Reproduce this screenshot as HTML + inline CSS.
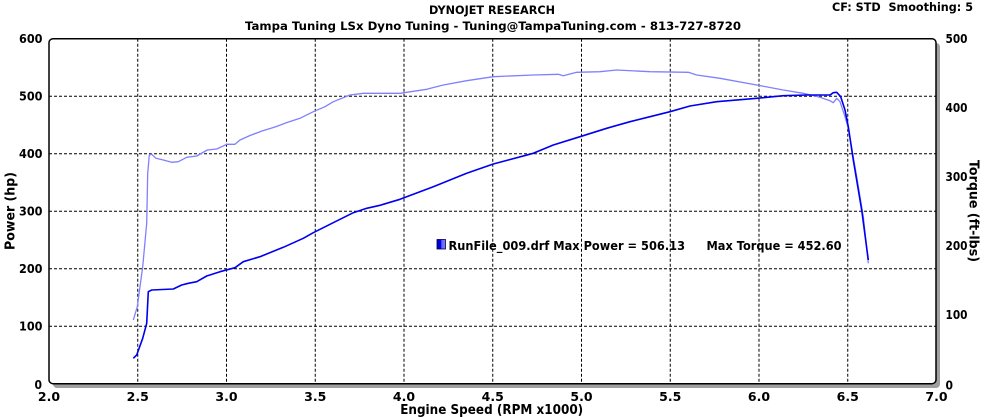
<!DOCTYPE html>
<html>
<head>
<meta charset="utf-8">
<style>
html,body{margin:0;padding:0;background:#fff;}
svg{display:block;}
text{font-family:"DejaVu Sans","Liberation Sans",sans-serif;font-weight:bold;fill:#000;}
</style>
</head>
<body>
<svg width="984" height="417" viewBox="0 0 984 417" xmlns="http://www.w3.org/2000/svg">
  <!-- Titles -->
  <text x="492" y="14" font-size="11.5" text-anchor="middle" textLength="126" lengthAdjust="spacingAndGlyphs">DYNOJET RESEARCH</text>
  <text x="493" y="30" font-size="11.5" text-anchor="middle" textLength="496" lengthAdjust="spacingAndGlyphs">Tampa Tuning LSx Dyno Tuning - Tuning@TampaTuning.com - 813-727-8720</text>
  <text x="832" y="11" font-size="11.5" textLength="141" lengthAdjust="spacingAndGlyphs">CF: STD&#160;&#160;Smoothing: 5</text>

  <!-- shadow -->
  <rect x="53" y="43" width="887" height="345" rx="4" fill="#a0a0a0"/>
  <!-- plot -->
  <rect x="49" y="38.7" width="887" height="345" rx="4" fill="#fff"/>

  <!-- grid -->
  <g stroke="#000" stroke-width="1" stroke-dasharray="3,2" fill="none">
    <line x1="49" y1="96.2" x2="936" y2="96.2"/>
    <line x1="49" y1="153.7" x2="936" y2="153.7"/>
    <line x1="49" y1="211.2" x2="936" y2="211.2"/>
    <line x1="49" y1="268.7" x2="936" y2="268.7"/>
    <line x1="49" y1="326.2" x2="936" y2="326.2"/>
    <line x1="137.75" y1="38.7" x2="137.75" y2="383.7"/>
    <line x1="226.5" y1="38.7" x2="226.5" y2="383.7"/>
    <line x1="315.25" y1="38.7" x2="315.25" y2="383.7"/>
    <line x1="404" y1="38.7" x2="404" y2="383.7"/>
    <line x1="492.75" y1="38.7" x2="492.75" y2="383.7"/>
    <line x1="581.5" y1="38.7" x2="581.5" y2="383.7"/>
    <line x1="670.25" y1="38.7" x2="670.25" y2="383.7"/>
    <line x1="759" y1="38.7" x2="759" y2="383.7"/>
    <line x1="847.75" y1="38.7" x2="847.75" y2="383.7"/>
  </g>

  <!-- frame -->
  <rect x="49" y="38.7" width="887" height="345" rx="4" fill="none" stroke="#000" stroke-width="1.5"/>

  <!-- ticks -->
  <g id="ticks" stroke="#000" stroke-width="1.2"></g>

  <!-- torque (light) -->
  <polyline fill="none" stroke="#8080ff" stroke-width="1.3" stroke-linejoin="round" points="133.3,320 137.3,306.7 142.7,266.7 146.7,223.3 147.7,173.3 149.3,155 151.7,154.3 156,158.3 163.3,160 171.7,162.3 178.3,161.7 186.7,157.3 196.7,156 207.3,150 216.7,149 226.7,144.3 235,144.3 240,140 250,135.5 262,131 275,127 287,122.5 300,118.3 313.3,111.7 325,106.7 333.3,101.7 350,95 363.3,93.3 400,93.3 426.7,89.3 443.3,85 466.7,80.7 493.3,76.7 533.3,75 558.3,74.3 563.3,75.7 576.7,72.3 600,71.7 616.7,70 650,71.7 688.3,72.3 696.7,75 720,78.3 756.7,85 783.3,90 803.3,93.3 820,97.3 830,100.7 833.3,102.7 836.7,98.3 840,101.7 845,116.7 848.3,128.3 856.7,176.7 863.3,216.7 868.3,263.3"/>

  <!-- power (dark) -->
  <polyline fill="none" stroke="#0000f0" stroke-width="1.6" stroke-linejoin="round" points="133.3,358.3 136.7,355 142.7,338.3 146.7,323.3 148.3,291.7 151.7,290 173.3,289 181.7,285 188.3,283.3 196.7,281.7 206.7,276 220,271.7 235,267.7 243.3,261.7 260,256.7 283.3,247.3 303.3,238.3 313.3,232.7 330,224.3 353.3,212.7 366.7,208.3 380,205.3 400,199.3 433.3,186.7 466.7,173.3 493.3,164 533.3,153.3 553.3,145 580,136.7 606.7,128.3 630,121.7 650,116.7 670,111.7 690,106 716.7,101.7 756.7,98.3 783.3,95.7 806.7,95 830,95 833.3,92.7 836.7,92.3 840.7,96.7 845,110 848.3,126.7 853.3,160 861.7,210 868.3,260"/>

  <!-- legend -->
  <defs>
    <linearGradient id="lg" x1="0" x2="1" y1="0" y2="0">
      <stop offset="0" stop-color="#0000e0"/>
      <stop offset="0.45" stop-color="#0000e0"/>
      <stop offset="0.55" stop-color="#6060ff"/>
      <stop offset="1" stop-color="#8080ff"/>
    </linearGradient>
  </defs>
  <rect x="437" y="239.5" width="8.5" height="9.5" fill="url(#lg)" stroke="#000040" stroke-width="0.8"/>
  <text x="448.5" y="250" font-size="12.5" textLength="236.5" lengthAdjust="spacingAndGlyphs">RunFile_009.drf Max Power = 506.13</text>
  <text x="706.5" y="250" font-size="12.5" textLength="135" lengthAdjust="spacingAndGlyphs">Max Torque = 452.60</text>

  <!-- left axis labels -->
  <g font-size="12.5" text-anchor="end">
    <text x="42.5" y="43.2" textLength="23.5" lengthAdjust="spacingAndGlyphs">600</text>
    <text x="42.5" y="100.7" textLength="23.5" lengthAdjust="spacingAndGlyphs">500</text>
    <text x="42.5" y="158.2" textLength="23.5" lengthAdjust="spacingAndGlyphs">400</text>
    <text x="42.5" y="215.7" textLength="23.5" lengthAdjust="spacingAndGlyphs">300</text>
    <text x="42.5" y="273.2" textLength="23.5" lengthAdjust="spacingAndGlyphs">200</text>
    <text x="42.5" y="330.7" textLength="23.5" lengthAdjust="spacingAndGlyphs">100</text>
    <text x="42" y="389" textLength="7.5" lengthAdjust="spacingAndGlyphs">0</text>
  </g>
  <!-- right axis labels -->
  <g font-size="12.5">
    <text x="945.5" y="43.2" textLength="22" lengthAdjust="spacingAndGlyphs">500</text>
    <text x="945.5" y="112.2" textLength="22" lengthAdjust="spacingAndGlyphs">400</text>
    <text x="945.5" y="181.2" textLength="22" lengthAdjust="spacingAndGlyphs">300</text>
    <text x="945.5" y="250.2" textLength="22" lengthAdjust="spacingAndGlyphs">200</text>
    <text x="945.5" y="319.2" textLength="22" lengthAdjust="spacingAndGlyphs">100</text>
    <text x="945.5" y="389.5" textLength="7.5" lengthAdjust="spacingAndGlyphs">0</text>
  </g>
  <!-- x labels -->
  <g font-size="12.5" text-anchor="middle">
    <text x="49" y="401">2.0</text>
    <text x="137.75" y="401">2.5</text>
    <text x="226.5" y="401">3.0</text>
    <text x="315.25" y="401">3.5</text>
    <text x="404" y="401">4.0</text>
    <text x="492.75" y="401">4.5</text>
    <text x="581.5" y="401">5.0</text>
    <text x="670.25" y="401">5.5</text>
    <text x="759" y="401">6.0</text>
    <text x="847.75" y="401">6.5</text>
    <text x="936.5" y="401">7.0</text>
  </g>
  <text x="491.7" y="414" font-size="13" text-anchor="middle" textLength="183" lengthAdjust="spacingAndGlyphs">Engine Speed (RPM x1000)</text>
  <text transform="translate(14.5,211) rotate(-90)" font-size="13" text-anchor="middle" textLength="78" lengthAdjust="spacingAndGlyphs">Power (hp)</text>
  <text transform="translate(969.5,211) rotate(90)" font-size="13" text-anchor="middle" textLength="102" lengthAdjust="spacingAndGlyphs">Torque (ft-lbs)</text>

  <script>
  (function(){
    var g=document.getElementById('ticks'),s='';
    function L(a,b,c,d){s+='<line x1="'+a+'" y1="'+b+'" x2="'+c+'" y2="'+d+'"/>';}
    for(var i=1;i<50;i++){var x=49+i*17.75;L(x,379.5,x,383.7);}
    for(var j=1;j<30;j++){var y=383.7-j*11.5;L(45,y,53,y);}
    for(var k=1;k<25;k++){var y2=383.7-k*13.8;L(931.5,y2,936,y2);}
    g.innerHTML=s;
  })();
  </script>
</svg>
</body>
</html>
